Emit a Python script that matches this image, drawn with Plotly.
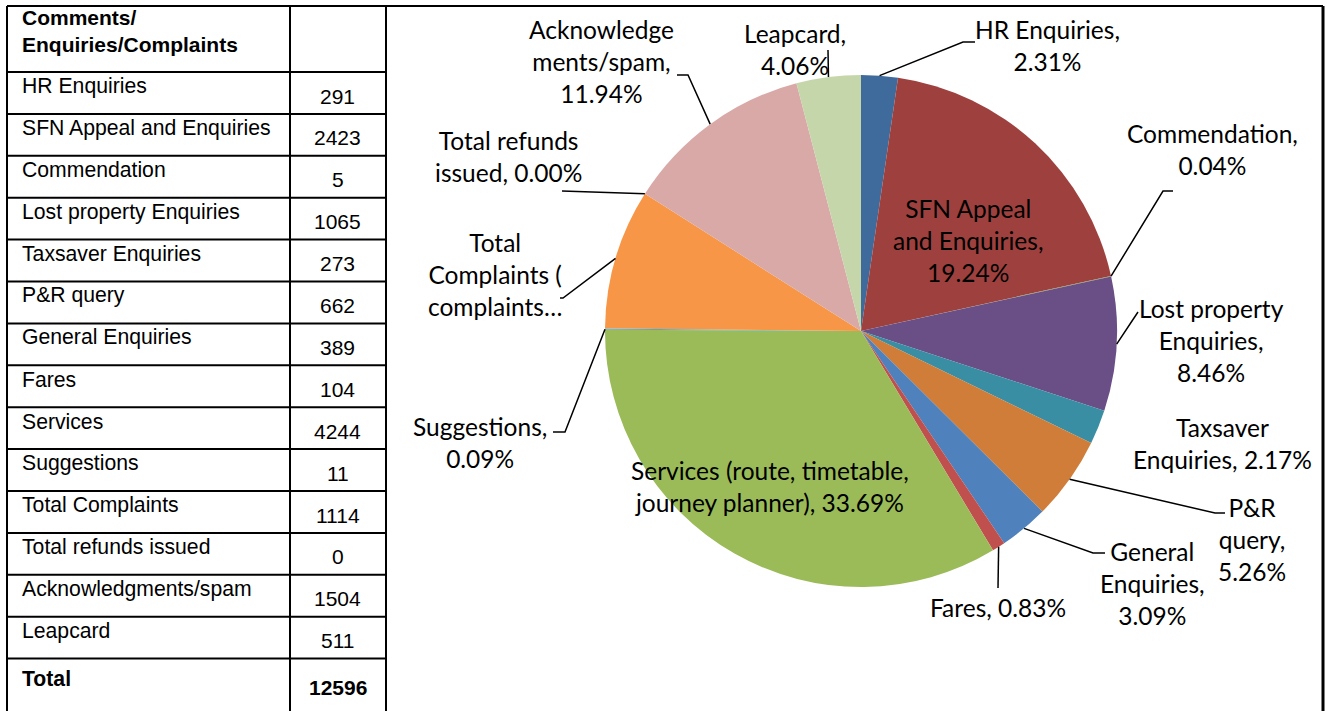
import math
import plotly.graph_objects as go

# ---------------- data ----------------
table_header = ["Comments/<br>Enquiries/Complaints", ""]
categories = ["HR Enquiries", "SFN Appeal and Enquiries", "Commendation",
              "Lost property Enquiries", "Taxsaver Enquiries", "P&R query",
              "General Enquiries", "Fares", "Services", "Suggestions",
              "Total Complaints", "Total refunds issued", "Acknowledgments/spam",
              "Leapcard"]
values = [291, 2423, 5, 1065, 273, 662, 389, 104, 4244, 11, 1114, 0, 1504, 511]
total_label = "Total"
pie_label_templates = [
    "HR Enquiries,<br>{p}",
    "SFN Appeal<br>and Enquiries,<br>{p}",
    "Commendation,<br>{p}",
    "Lost property<br>Enquiries,<br>{p}",
    "Taxsaver<br>Enquiries, {p}",
    "P&R<br>query,<br>{p}",
    "General<br>Enquiries,<br>{p}",
    "Fares, {p}",
    "Services (route, timetable,<br>journey planner), {p}",
    "Suggestions,<br>{p}",
    "Total<br>Complaints (<br>complaints…",
    "Total refunds<br>issued, {p}",
    "Acknowledge<br>ments/spam,<br>{p}",
    "Leapcard,<br>{p}",
]

# ---------------- styles / layout ----------------
W, H = 1327, 711
colors = ["#3F6A9C", "#9E413E", "#7F9A48", "#6A4F87", "#3A8EA3", "#CF7D38",
          "#4F81BD", "#C0504D", "#9BBB59", "#4BACC6", "#F79646", "#2C4D75",
          "#D9A9A8", "#C5D6AA"]
CX, CY, R = 861, 331, 256
# label centres in pixels
label_pos = [(1047, 45), (968, 240), (1212, 149), (1211, 340), (1222, 443),
             (1252, 539), (1152, 583), (998, 607), (770, 486), (480, 442),
             (495, 274), (508, 156), (601, 61), (795, 50)]
# leader line bends (pixels) after starting on the slice edge; None = no leader
leaders = [[(963, 42), (975, 42)], None, [(1163, 191), (1173, 191)],
           [(1134, 318), (1138, 312)], None, [(1215, 513), (1225, 513)],
           [(1093, 553), (1105, 553)], [(998, 588)], None,
           [(565, 432), (553, 432)], [(563, 298), (560, 298)],
           [(562, 191)], [(688, 75), (677, 75)], [(828, 50)]]

PIE_FONT = "Lato"
TAB_FONT = "Liberation Sans, Arial"


def px(x):
    return x / W


def py(y):
    return 1 - y / H


total = sum(values)

fig = go.Figure()
fig.add_trace(go.Pie(
    labels=categories, values=values, sort=False, direction="clockwise",
    rotation=0, marker=dict(colors=colors, line=dict(width=0)),
    textinfo="none", hoverinfo="label+percent", showlegend=False,
    domain=dict(x=[px(CX - R), px(CX + R)], y=[py(CY + R), py(CY - R)]),
))

shapes = []
annotations = []

# ----- pie labels and leader lines -----
cum = 0
for i, v in enumerate(values):
    mid = (cum + v / 2) / total
    cum += v
    ang = 2 * math.pi * mid
    ex, ey = CX + R * math.sin(ang), CY - R * math.cos(ang)
    pct = f"{v / total * 100:.2f}%"
    text = pie_label_templates[i].format(p=pct)
    lx, ly = label_pos[i]
    annotations.append(dict(
        x=px(lx), y=py(ly), xref="paper", yref="paper", text=text,
        showarrow=False, xanchor="center", yanchor="middle", align="center",
        font=dict(family=PIE_FONT, size=24.5, color="#000000")))
    if leaders[i]:
        pts = [(ex, ey)] + leaders[i]
        path = "M " + " L ".join(f"{px(a)},{py(b)}" for a, b in pts)
        shapes.append(dict(type="path", xref="paper", yref="paper", path=path,
                           line=dict(color="#000000", width=1.5)))

# ----- table -----
TL, TM, TR = 7, 290, 386
TOP, HDR_B, ROW_H = 6, 72, 41.9
n_rows = len(categories) + 1
bottom = H + 5
line_style = dict(color="#000000", width=2)

for x in (TL, TM, TR):
    shapes.append(dict(type="line", xref="paper", yref="paper",
                       x0=px(x), x1=px(x), y0=py(TOP), y1=py(bottom), line=line_style))
shapes.append(dict(type="line", xref="paper", yref="paper",
                   x0=px(TL), x1=px(1323), y0=py(TOP), y1=py(TOP), line=line_style))
shapes.append(dict(type="line", xref="paper", yref="paper",
                   x0=px(1323), x1=px(1323), y0=py(TOP), y1=py(bottom),
                   line=dict(color="#000000", width=3)))
for k in range(n_rows):
    y = HDR_B + k * ROW_H
    shapes.append(dict(type="line", xref="paper", yref="paper",
                       x0=px(TL), x1=px(TR), y0=py(y), y1=py(y), line=line_style))

annotations.append(dict(x=px(20), y=py(31), xref="paper", yref="paper",
                        text="<b>" + table_header[0] + "</b>", showarrow=False,
                        xanchor="left", yanchor="middle", align="left",
                        font=dict(family=TAB_FONT, size=21, color="#000000")))
rows = list(zip(categories, values)) + [(total_label, total)]
for k, (name, val) in enumerate(rows):
    top = HDR_B + k * ROW_H
    bold = k == len(rows) - 1
    t_name = f"<b>{name}</b>" if bold else name
    t_val = f"<b>{val}</b>" if bold else str(val)
    annotations.append(dict(x=px(20), y=py(top + (20 if bold else 14)), xref="paper", yref="paper",
                            text=t_name, showarrow=False, xanchor="left", yanchor="middle",
                            font=dict(family=TAB_FONT, size=21.2, color="#000000")))
    annotations.append(dict(x=px(338), y=py(top + (29 if bold else 24)), xref="paper", yref="paper",
                            text=t_val, showarrow=False, xanchor="center", yanchor="middle",
                            font=dict(family=TAB_FONT, size=21, color="#000000")))

fig.update_layout(
    width=W, height=H, margin=dict(l=0, r=0, t=0, b=0),
    paper_bgcolor="#FFFFFF", plot_bgcolor="#FFFFFF",
    shapes=shapes, annotations=annotations,
)

fig.write_html("out.html", config={"displayModeBar": False},
               post_script="document.body.style.margin='0';document.body.style.overflow='hidden';")
